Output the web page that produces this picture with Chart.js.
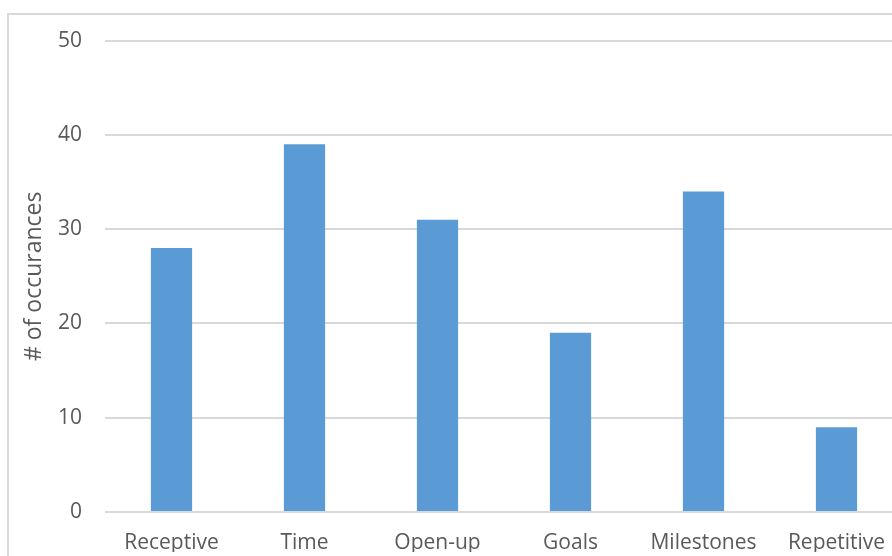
<!DOCTYPE html>
<html>
<head>
<meta charset="utf-8">
<script src="https://cdn.jsdelivr.net/npm/chart.js@4"></script>
<style>
  html, body { margin: 0; padding: 0; background: #fff; overflow: hidden; width: 892px; height: 556px; }
  #frame { position: absolute; left: 7px; top: 13px; width: 900px; height: 560px; border: 2px solid #d9d9d9; overflow: hidden; }
  #chart { display: block; position: absolute; left: 0; top: -10px; }
</style>
</head>
<body>
<div id="frame"><canvas id="chart" width="900" height="560"></canvas></div>
<script>
//DATA
const categories = ['Receptive', 'Time', 'Open-up', 'Goals', 'Milestones', 'Repetitive'];
const occurances = [28, 39, 31, 19, 34, 9];
const yTicks = [0, 10, 20, 30, 40, 50];

const textGray = '#595959';
const gridGray = '#d9d9d9';
const font = { family: "'Open Sans', sans-serif", size: 21 };
const titleFont = { family: "'Open Sans', sans-serif", size: 23 };

//CONFIG
const config = {
    type: 'bar',
    data: {
        labels: categories,
        datasets: [{
            label: '# of occurances',
            data: occurances,
            backgroundColor: '#5b9bd5',
            categoryPercentage: 1,
            barPercentage: 0.31
        }]
    },
    options: {
        responsive: false,
        animation: false,
        layout: { padding: { top: 7, right: 6, bottom: 13, left: 0 } },
        plugins: {
            legend: { display: false },
            tooltip: { enabled: false }
        },
        scales: {
            x: {
                grid: { display: false },
                border: { display: false },
                ticks: { color: textGray, font: font, padding: 10, autoSkip: false, maxRotation: 0 },
                afterFit: s => { s.height = 40; }
            },
            y: {
                min: 0,
                max: 50,
                afterBuildTicks: s => { s.ticks = yTicks.map(v => ({ value: v })); },
                grid: { color: gridGray, lineWidth: 2, drawTicks: false },
                border: { display: false },
                ticks: { color: textGray, font: font, padding: 23 },
                title: { display: true, text: '# of occurances', color: textGray, font: titleFont, padding: { top: 12, bottom: 0 } },
                afterFit: s => { s.width = 96; }
            }
        }
    }
};

//RENDER
const chart = new Chart(document.getElementById('chart'), config);
</script>
</body>
</html>
